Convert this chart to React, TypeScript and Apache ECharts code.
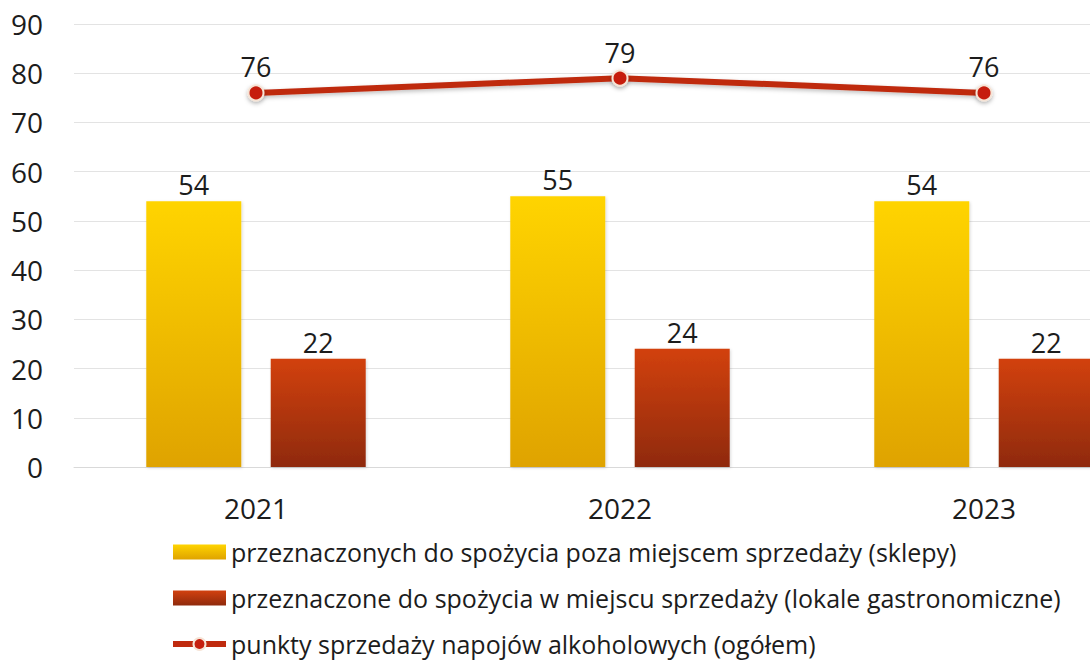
import React, { useEffect, useRef } from "react";
import * as echarts from "echarts";

const categories = ["2021", "2022", "2023"];
const shopsValues = [54, 55, 54];
const gastroValues = [22, 24, 22];
const totalValues = [76, 79, 76];
const yTicks = [0, 10, 20, 30, 40, 50, 60, 70, 80, 90];

const seriesNames = [
  "przeznaczonych do spożycia poza miejscem sprzedaży (sklepy)",
  "przeznaczone do spożycia w miejscu sprzedaży (lokale gastronomiczne)",
  "punkty sprzedaży napojów alkoholowych (ogółem)",
];

const FONT = "Open Sans";
const TEXT = "#1c1c1c";

export default function App() {
  const ref = useRef<HTMLDivElement>(null);
  useEffect(() => {
    if (!ref.current) return;
    const chart = echarts.init(ref.current, undefined, { renderer: "svg" });
    const yellow = new echarts.graphic.LinearGradient(0, 0, 0, 1, [
      { offset: 0, color: "#FFD400" },
      { offset: 1, color: "#DFA300" },
    ]);
    const red = new echarts.graphic.LinearGradient(0, 0, 0, 1, [
      { offset: 0, color: "#D2410F" },
      { offset: 1, color: "#8F2A0C" },
    ]);
    chart.setOption({
      animation: false,
      textStyle: { fontFamily: FONT },
      grid: { left: 74, top: 24, width: 1092, height: 443, containLabel: false },
      xAxis: {
        type: "category",
        data: categories,
        axisLine: { show: true, lineStyle: { color: "#d9d9d9", width: 1 } },
        axisTick: { show: false },
        axisLabel: { fontSize: 28, color: TEXT, margin: 27, fontFamily: FONT },
      },
      yAxis: {
        type: "value",
        min: yTicks[0],
        max: yTicks[yTicks.length - 1],
        interval: 10,
        axisLine: { show: false },
        axisTick: { show: false },
        splitLine: { lineStyle: { color: "#e3e3e3", width: 1 } },
        axisLabel: { fontSize: 28, color: TEXT, margin: 31, fontFamily: FONT },
      },
      legend: {
        orient: "vertical",
        left: 170,
        top: 538,
        height: 200,
        padding: 0,
        itemWidth: 53,
        itemHeight: 15,
        itemGap: 18,
        textStyle: { fontSize: 25, color: TEXT, fontFamily: FONT, lineHeight: 28 },
        data: [
          { name: seriesNames[0], icon: "rect" },
          { name: seriesNames[1], icon: "rect" },
          { name: seriesNames[2], lineStyle: { width: 6 } },
        ],
      },
      series: [
        {
          name: seriesNames[0],
          type: "bar",
          data: shopsValues,
          barWidth: 95,
          barGap: "31%",
          itemStyle: { color: yellow, shadowBlur: 3, shadowColor: "rgba(0,0,0,0.15)", shadowOffsetX: 1, shadowOffsetY: 1 },
          label: { show: true, position: "top", distance: 3, fontSize: 27, color: TEXT, fontFamily: FONT },
        },
        {
          name: seriesNames[1],
          type: "bar",
          data: gastroValues,
          barWidth: 95,
          itemStyle: { color: red, shadowBlur: 3, shadowColor: "rgba(0,0,0,0.15)", shadowOffsetX: 1, shadowOffsetY: 1 },
          label: { show: true, position: "top", distance: 3, fontSize: 27, color: TEXT, fontFamily: FONT },
        },
        {
          name: seriesNames[2],
          type: "line",
          data: totalValues,
          symbol: "circle",
          symbolSize: 15,
          lineStyle: { color: "#BF2A0E", width: 6, shadowBlur: 4, shadowColor: "rgba(0,0,0,0.25)", shadowOffsetY: 2 },
          itemStyle: { color: "#C61F0E", borderColor: "#F6E4D6", borderWidth: 2, shadowBlur: 4, shadowColor: "rgba(0,0,0,0.3)", shadowOffsetY: 2 },
          label: { show: true, position: "top", distance: 4, fontSize: 27, color: TEXT, fontFamily: FONT },
          z: 5,
        },
      ],
    });
    return () => chart.dispose();
  }, []);
  return (
    <div style={{ position: "fixed", left: 0, top: 0, width: 1090, height: 660, overflow: "hidden", background: "#fff" }}>
      <div ref={ref} style={{ width: 1200, height: 660 }} />
    </div>
  );
}
